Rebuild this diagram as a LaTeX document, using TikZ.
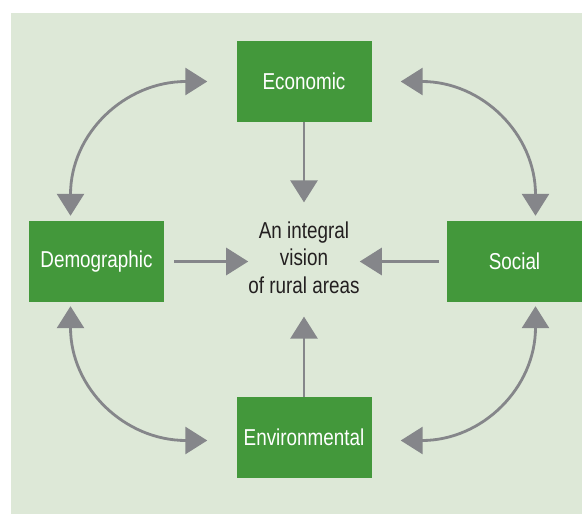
\documentclass[tikz,border=0pt]{standalone}
\usepackage{fontspec}
\setmainfont{Liberation Sans}[FakeStretch=0.82]
\usetikzlibrary{arrows.meta}
\definecolor{boxgreen}{HTML}{43983B}
\definecolor{paleground}{HTML}{DDE8D7}
\definecolor{arrgray}{HTML}{85868A}
\definecolor{inkdark}{HTML}{231F20}

\begin{document}
\begin{tikzpicture}[x=1pt, y=-1pt,
    area/.style={fill=boxgreen, text=white, minimum width=135pt, minimum height=81pt,
      inner sep=0pt, font=\fontsize{23}{27}\selectfont},
    link/.style={draw=arrgray, line width=2.8pt, -{Triangle[length=22pt,width=27pt]}},
    twoway/.style={link, {Triangle[length=22pt,width=27pt]}-{Triangle[length=22pt,width=27pt]}}]
  \useasboundingbox (0,0) rectangle (582,514);
  \fill[paleground] (11,13) rectangle (582,514);

  \node[area] (eco) at (304,81.5) {Economic};
  \node[area] (demo) at (96.5,261.5) {Demographic};
  \node[area] (soc) at (514.5,261.5) {Social};
  \node[area] (env) at (304,437.5) {Environmental};
  \node[align=center, inner sep=0pt, text=inkdark, font=\fontsize{23}{27.5}\selectfont]
    (vision) at (304,257.5) {An integral\\vision\\of rural areas};

  \draw[link, shorten >=19pt] (eco) -- (vision);
  \draw[link, shorten >=23pt] (env) -- (vision);
  \draw[link, shorten <=10pt] (demo.east) -- (demo.east -| vision.west);
  \draw[link, shorten <=8pt] (soc.west) -- (soc.west -| vision.east);

  \draw[twoway] ([xshift=-26pt,yshift=5pt]demo.north) to[out=90, in=180, looseness=1.1] ([xshift=-29pt]eco.west);
  \draw[twoway] ([xshift=29pt]eco.east) to[out=0, in=90, looseness=1.1] ([xshift=21pt,yshift=5pt]soc.north);
  \draw[twoway] ([xshift=-26pt,yshift=-4pt]demo.south) to[out=-90, in=180, looseness=1.1] ([xshift=-29pt,yshift=-3pt]env.west);
  \draw[twoway] ([xshift=29pt,yshift=-3pt]env.east) to[out=0, in=-90, looseness=1.1] ([xshift=21pt,yshift=-4pt]soc.south);
\end{tikzpicture}
\end{document}
